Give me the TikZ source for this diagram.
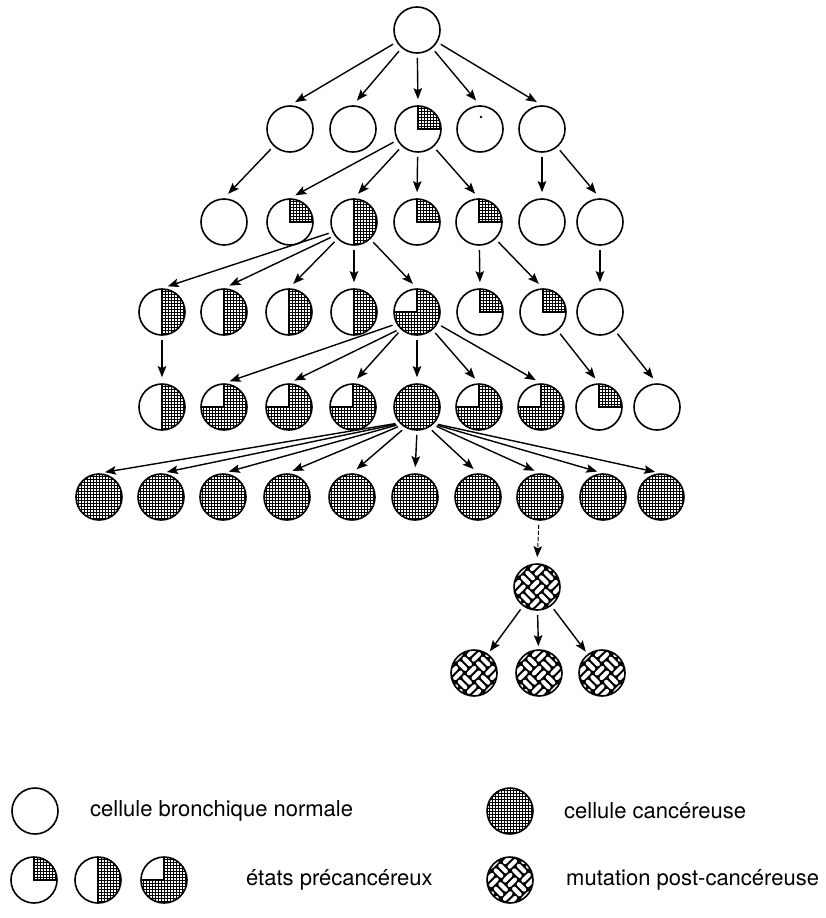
\documentclass[tikz,border=0pt]{standalone}
\usepackage{fontspec}
\setmainfont{TeX Gyre Heros}
\usetikzlibrary{arrows.meta}
\newcommand\cellgrid[1]{%
  \begin{scope}[shift={(path picture bounding box.center)}, x=1pt, y=1pt]
    \clip #1;
    \draw[gridfill] (-27,-27) grid (27,27);
  \end{scope}}
\tikzset{
  cell/.style={circle, draw, line width=1.6pt, minimum size=46pt, inner sep=0pt},
  gridfill/.style={line width=0.95pt, step=3pt},
  edge/.style={line width=1.3pt},
  weavebar/.style={white, line width=4.2pt, line cap=round},
  normal/.style={cell},
  quarter/.style={cell, path picture={
    \cellgrid{(0,0) rectangle (26,26)}
    \draw[edge] (path picture bounding box.north) -- (path picture bounding box.center) -- (path picture bounding box.east);}},
  half/.style={cell, path picture={
    \cellgrid{(0,-26) rectangle (26,26)}
    \draw[edge] (path picture bounding box.north) -- (path picture bounding box.south);}},
  three/.style={cell, path picture={
    \cellgrid{(-26,-26) rectangle (26,0) (0,0) rectangle (26,26)}
    \draw[edge] (path picture bounding box.north) -- (path picture bounding box.center) -- (path picture bounding box.west);}},
  full/.style={cell, path picture={
    \cellgrid{(-26,-26) rectangle (26,26)}}},
  mut/.style={cell, path picture={
    \fill[black] (path picture bounding box.south west) rectangle (path picture bounding box.north east);
    \begin{scope}[shift={(path picture bounding box.center)}, x=1pt, y=1pt]
      \foreach \i in {-3,...,3}{\foreach \j in {-3,...,3}{
        \pgfmathtruncatemacro\pp{mod(\i+\j+20,2)}
        \ifnum\pp=0 \def\du{3.8}\def\dv{0}\def\ou{0}\def\ov{3.25}\else \def\du{0}\def\dv{3.8}\def\ou{3.25}\def\ov{0}\fi
        \foreach \s in {-1,1}{
          \pgfmathsetmacro\cu{13*\i+\s*\ou}
          \pgfmathsetmacro\cv{13*\j+\s*\ov}
          \draw[weavebar] ({0.7071*(\cu-\du-\cv+\dv)},{0.7071*(\cu-\du+\cv-\dv)}) -- ({0.7071*(\cu+\du-\cv-\dv)},{0.7071*(\cu+\du+\cv+\dv)});
        }
      }}
    \end{scope}}},
  arr/.style={line width=1.4pt, -{Stealth[length=11pt,width=8.5pt,inset=2pt]}, shorten <=4pt, shorten >=6pt},
  arrm/.style={arr, shorten >=3pt},
  arrd/.style={arr, dash pattern=on 4pt off 2pt, line width=1pt},
  lab/.style={anchor=west, inner sep=0pt, font=\fontsize{22}{26}\selectfont}
}
\begin{document}
\begin{tikzpicture}[x=1pt, y=-1pt]
\useasboundingbox (0,0) rectangle (825,918);
% row 0
\node[normal] (r0) at (417,30) {};
% row 1
\node[normal]  (r1a) at (290,129) {};
\node[normal]  (r1b) at (353,129) {};
\node[quarter] (r1c) at (418,129) {};
\node[normal]  (r1d) at (480,129) {};
\node[normal]  (r1e) at (542,129) {};
\fill (481,117) circle (1.3);
% row 2
\node[normal]  (r2a) at (224,222) {};
\node[quarter] (r2b) at (290,222) {};
\node[half]    (r2c) at (354,222) {};
\node[quarter] (r2d) at (417,222) {};
\node[quarter] (r2e) at (479,222) {};
\node[normal]  (r2f) at (542,222) {};
\node[normal]  (r2g) at (600,222) {};
% row 3
\node[half]    (r3a) at (162,312) {};
\node[half]    (r3b) at (224,312) {};
\node[half]    (r3c) at (289,312) {};
\node[half]    (r3d) at (354,312) {};
\node[three]   (r3e) at (417,312) {};
\node[quarter] (r3f) at (480,312) {};
\node[quarter] (r3g) at (543,312) {};
\node[normal]  (r3h) at (600,312) {};
% row 4
\node[half]    (r4a) at (162,407) {};
\node[three]   (r4b) at (224,407) {};
\node[three]   (r4c) at (289,407) {};
\node[three]   (r4d) at (353,407) {};
\node[full]    (r4e) at (417,407) {};
\node[three]   (r4f) at (479,407) {};
\node[three]   (r4g) at (541,407) {};
\node[quarter] (r4h) at (599,407) {};
\node[normal]  (r4i) at (657,407) {};
% row 5
\node[full] (r5a) at (99,497) {};
\node[full] (r5b) at (161,497) {};
\node[full] (r5c) at (223,497) {};
\node[full] (r5d) at (287,497) {};
\node[full] (r5e) at (352,497) {};
\node[full] (r5f) at (415,497) {};
\node[full] (r5g) at (478,497) {};
\node[full] (r5h) at (540,497) {};
\node[full] (r5i) at (603,497) {};
\node[full] (r5j) at (661,497) {};
% mutation
\node[mut] (m)  at (537,587) {};
\node[mut] (ma) at (474,673) {};
\node[mut] (mb) at (539,673) {};
\node[mut] (mc) at (602,673) {};
% arrows
\foreach \a/\b in {r0/r1a, r0/r1b, r0/r1c, r0/r1d, r0/r1e,
  r1a/r2a, r1c/r2b, r1c/r2c, r1c/r2d, r1c/r2e, r1e/r2f, r1e/r2g,
  r2c.205/r3a, r2c.215/r3b, r2c/r3c, r2c/r3d, r2c/r3e, r2e/r3f, r2e/r3g, r2g/r3h,
  r3a/r4a, r3e.210/r4b, r3e.225/r4c, r3e/r4d, r3e/r4e, r3e/r4f, r3e/r4g, r3g/r4h, r3h/r4i,
  r4e.222/r5a, r4e.224/r5b, r4e.226/r5c, r4e.230/r5d, r4e.240/r5e, r4e.270/r5f,
  r4e.300/r5g, r4e.312/r5h, r4e.314/r5i, r4e.316/r5j}
  \draw[arr] (\a) -- (\b.north);
\draw[arrd] (r5h) -- (m.north);
\foreach \b in {ma, mb, mc}
  \draw[arrm] (m) -- (\b);
% legend
\node[normal]  (lgN) at (35,811) {};
\node[lab] (tN) at (90,811) {cellule bronchique normale};
\node[full]    (lgF) at (510,811) {};
\node[lab] (tF) at (564,811) {cellule cancéreuse};
\node[quarter] (lgQ) at (34,880) {};
\node[half]    (lgH) at (98,880) {};
\node[three]   (lgT) at (164,880) {};
\node[lab] (tP) at (246,880) {états précancéreux};
\node[mut]     (lgM) at (510,880) {};
\node[lab] (tM) at (566,880) {mutation post-cancéreuse};
\end{tikzpicture}
\end{document}
